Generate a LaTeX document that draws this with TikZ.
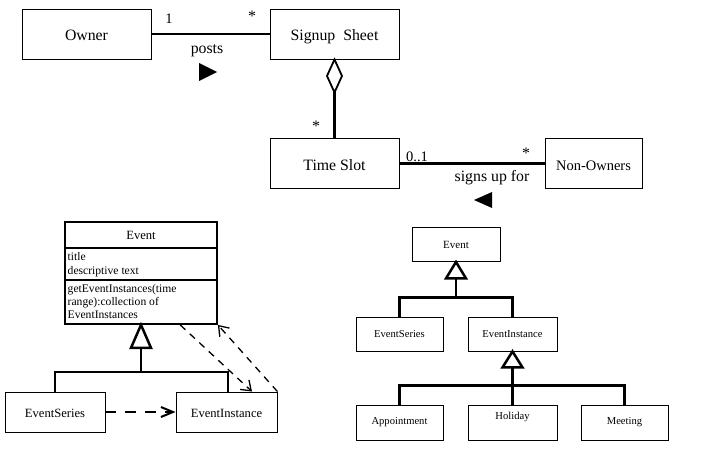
\documentclass[tikz,border=0pt]{standalone}
\usepackage{fontspec}
\setmainfont{Liberation Serif}
\usetikzlibrary{arrows.meta,calc}
\begin{document}
\begin{tikzpicture}[x=1pt,y=-1pt,
  box/.style={draw,line width=0.9pt,inner sep=0pt,anchor=center},
  bigtxt/.style={font=\fontsize{15.8}{18}\selectfont},
  lowtxt/.style={text height=14pt,text depth=0pt},
  midtxt/.style={font=\fontsize{12.6}{15}\selectfont},
  smalltxt/.style={font=\fontsize{10.6}{12}\selectfont},
  startxt/.style={font=\fontsize{16}{18}\selectfont},
  numtxt/.style={font=\fontsize{14.5}{17}\selectfont},
  cls/.style={draw,line width=1.8pt,inner sep=0pt,anchor=center,minimum width=152pt},
  assoc/.style={line width=3pt},
  genline/.style={line width=2.5pt},
  dep/.style={line width=1.3pt,dash pattern=on 7pt off 6pt,-{Straight Barb[length=9pt,width=13pt,line width=1.3pt]}},
  lbl/.style={inner sep=0pt,anchor=center}]
\useasboundingbox (0,0) rectangle (724,455);

% ---------- top diagram ----------
\node[box,bigtxt,lowtxt,minimum width=129pt,minimum height=50pt] (own) at (86.5,34) {Owner};
\node[box,bigtxt,lowtxt,minimum width=129pt,minimum height=50pt] (ss) at (334.5,34) {Signup\ \ Sheet};
\node[box,bigtxt,lowtxt,minimum width=129pt,minimum height=50pt] (ts) at (334.5,163) {Time Slot};
\node[box,font=\fontsize{14.5}{17}\selectfont,lowtxt,minimum width=97pt,minimum height=50pt] (no) at (593.5,163) {Non-Owners};

\draw[line width=1.7pt] (own.east) -- (ss.west);
\node[lbl,numtxt] (m1) at (169,19) {1};
\node[lbl,startxt] (m2) at (252,16) {*};
\node[lbl,bigtxt] (posts) at (207,51) {posts};
\fill (199,63) -- (217,72) -- (199,81) -- cycle;

\coordinate (dtip) at ($(ss.south)+(0,33)$);
\draw[line width=1.8pt,fill=white] (ss.south) -- ++(-7.5,16.5) -- (dtip) -- ++(7.5,-16.5) -- cycle;
\draw[line width=3.8pt] (dtip) -- (ts.north);
\node[lbl,startxt] (m3) at (316,126) {*};

\draw[assoc] (ts.east) -- (no.west);
\node[lbl,numtxt] (m4) at (417,157) {0..1};
\node[lbl,startxt] (m5) at (526,153) {*};
\node[lbl,bigtxt] (signs) at (492,178) {signs up for};
\fill (492,192) -- (474,200) -- (492,208) -- cycle;

% ---------- bottom left ----------
\node[cls,midtxt,minimum height=26pt] (evt) at (141,235) {Event};
\node[cls,minimum height=32pt] (eva) at (141,264) {};
\node[cls,minimum height=44pt] (evo) at (141,302) {};
\node[lbl,anchor=north west,align=left,font=\fontsize{11.6}{13.6}\selectfont] (attrs) at (67.5,252.5) {title\\descriptive text};
\node[lbl,anchor=north west,align=left,font=\fontsize{11.6}{13}\selectfont] (ops) at (67.5,284.5) {getEventInstances(time\\range):collection of\\EventInstances};

\node[box,midtxt,text height=11pt,text depth=0pt,minimum width=100pt,minimum height=40pt] (es1) at (55,412) {EventSeries};
\node[box,midtxt,text height=11pt,text depth=0pt,minimum width=101pt,minimum height=40pt] (ei1) at (226.5,412) {EventInstance};

\coordinate (g1) at ($(evo.south)+(0,23)$);
\coordinate (j1) at ($(evo.south)+(0,47)$);
\draw[genline,fill=white] (evo.south) -- ++(-10,23) -- ++(20,0) -- cycle;
\draw[genline] (g1) -- (j1);
\draw[genline] (es1.north) |- (j1) -| ($(ei1.north)+(1.5,0)$);

\draw[line width=2pt,dash pattern=on 11pt off 9pt,-{Straight Barb[length=12pt,width=10pt,line width=2pt]}] (es1.east) -- (ei1.west);
\draw[dep] ($(evo.south west)!0.755!(evo.south east)$) -- ($(ei1.north west)!0.75!(ei1.north east)$);
\draw[dep] (ei1.north east) -- (evo.south east);

% ---------- bottom right ----------
\node[box,font=\fontsize{11}{13}\selectfont,minimum width=88pt,minimum height=34pt] (ev2) at (456,244.5) {Event};
\node[box,smalltxt,minimum width=87pt,minimum height=34pt] (es2) at (399.5,334) {EventSeries};
\node[box,smalltxt,minimum width=89pt,minimum height=34pt] (ei2) at (512.5,334) {EventInstance};
\node[box,smalltxt,minimum width=87pt,minimum height=35pt] (app) at (399.5,422.5) {Appointment};
\node[box,smalltxt,minimum width=89pt,minimum height=35pt] (hol) at (512.5,422.5) {\raisebox{6pt}[\height][\depth]{Holiday}};
\node[box,smalltxt,minimum width=87pt,minimum height=35pt] (mee) at (624.5,422.5) {Meeting};

\coordinate (g2) at ($(ev2.south)+(0,16.5)$);
\coordinate (j2) at ($(ev2.south)+(0,35.5)$);
\draw[genline,fill=white] (ev2.south) -- ++(-10,16.5) -- ++(20,0) -- cycle;
\draw[genline] (g2) -- (j2);
\draw[genline] (es2.north) |- (j2) -| (ei2.north);

\coordinate (g3) at ($(ei2.south)+(0,16)$);
\coordinate (j3) at ($(ei2.south)+(0,34)$);
\draw[genline,fill=white] (ei2.south) -- ++(-10,16) -- ++(20,0) -- cycle;
\draw[genline] (g3) -- (hol.north);
\draw[genline] (app.north) |- (j3) -| (mee.north);
\end{tikzpicture}
\end{document}
